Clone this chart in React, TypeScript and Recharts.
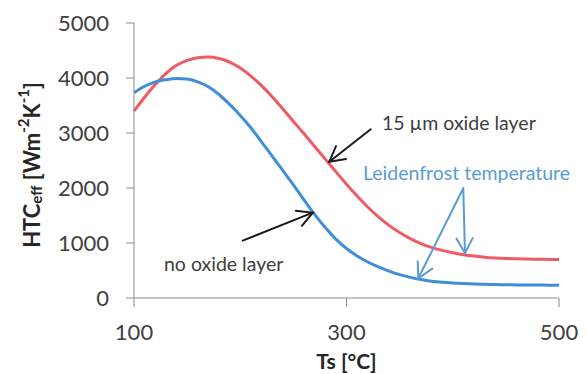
import { LineChart, Line, XAxis, YAxis, ReferenceLine, ReferenceDot } from 'recharts'

const temps = [
  100, 110, 120, 130, 140, 150, 160, 170, 180, 190, 200, 210, 220, 230, 240, 250, 260, 270, 280, 290, 300,
  310, 320, 330, 340, 350, 360, 370, 380, 390, 400, 410, 420, 430, 440, 450, 460, 470, 480, 490, 500,
]
const oxide15 = [
  3400, 3650, 3880, 4080, 4230, 4320, 4370, 4380, 4355, 4290, 4180, 4035, 3860, 3660, 3440, 3210, 2985, 2755, 2525, 2295, 2070,
  1855, 1655, 1475, 1320, 1190, 1080, 990, 920, 866, 822, 788, 762, 743, 729, 719, 712, 707, 704, 702, 701,
]
const noOxide = [
  3730, 3850, 3930, 3970, 3993, 3980, 3930, 3840, 3700, 3520, 3320, 3095, 2840, 2580, 2320, 2055, 1785, 1520, 1280, 1070, 900,
  765, 655, 565, 490, 425, 375, 335, 305, 285, 272, 263, 256, 250, 245, 241, 238, 236, 235, 234, 234,
]
const xTicks = [100, 300, 500]
const yTicks = [0, 1000, 2000, 3000, 4000, 5000]

const data = temps.map((t, i) => ({ t, oxide: oxide15[i], bare: noOxide[i] }))

const RED = '#ef5a63'
const BLUE = '#3f8fd8'
const NOTE_BLUE = '#5b9bd5'
const FONT = 'Lato, "Liberation Sans", sans-serif'

// arrows in data coordinates
const arrows = [
  { from: [322.8, 3067], to: [283.8, 2478], color: '#1a1a1a' },
  { from: [202.3, 1042], to: [268.2, 1551], color: '#1a1a1a' },
  { from: [409.9, 1995], to: [411.5, 813], color: NOTE_BLUE },
  { from: [409.9, 1995], to: [367.6, 358], color: NOTE_BLUE },
]

const notes = [
  { x: 333.4, y: 3200, text: '15 µm oxide layer', color: '#404040' },
  { x: 315.5, y: 2273, text: 'Leidenfrost temperature', color: NOTE_BLUE },
  { x: 128.2, y: 636, text: 'no oxide layer', color: '#404040' },
]

const arrowShape = (color: string) => (p: any) => {
  const { x1, y1, x2, y2 } = p
  const a = Math.atan2(y2 - y1, x2 - x1)
  const len = 17
  const spread = 0.5
  const hx1 = x2 - len * Math.cos(a - spread)
  const hy1 = y2 - len * Math.sin(a - spread)
  const hx2 = x2 - len * Math.cos(a + spread)
  const hy2 = y2 - len * Math.sin(a + spread)
  return (
    <g stroke={color} strokeWidth={2} fill="none" strokeLinecap="round">
      <line x1={x1} y1={y1} x2={x2} y2={y2} />
      <polyline points={`${hx1},${hy1} ${x2},${y2} ${hx2},${hy2}`} />
    </g>
  )
}

const noteShape = (text: string, color: string) => (p: any) => (
  <text x={p.cx} y={p.cy} dominantBaseline="central" fill={color} fontSize={19.5} fontFamily={FONT}>
    {text}
  </text>
)

export default function App() {
  return (
    <div style={{ position: 'absolute', left: 0, top: 0, background: '#fff' }}>
      <LineChart width={587} height={374} data={data} margin={{ top: 23, right: 28, left: 0, bottom: 0 }}>
        <XAxis
          dataKey="t"
          type="number"
          domain={[100, 500]}
          ticks={xTicks}
          height={76}
          tickSize={9}
          tickMargin={17}
          stroke="#8c8c8c"
          tick={{ fill: '#404040', fontSize: 22, fontFamily: FONT }}
          label={{
            value: 'Ts [°C]', position: 'insideBottom', offset: 5,
            style: { fill: '#262626', fontSize: 21, fontWeight: 700, fontFamily: FONT },
          }}
        />
        <YAxis
          type="number"
          domain={[0, 5000]}
          ticks={yTicks}
          width={134}
          tickSize={8}
          tickMargin={17}
          stroke="#8c8c8c"
          tick={{ fill: '#404040', fontSize: 22, fontFamily: FONT }}
          label={{
            content: () => (
              <text
                transform="translate(31,165) rotate(-90)"
                textAnchor="middle"
                dominantBaseline="central"
                fill="#262626"
                fontSize={22}
                fontWeight={700}
                fontFamily={FONT}
              >
                HTC<tspan fontSize={15} dy={5}>eff</tspan>
                <tspan dy={-5}> [Wm</tspan>
                <tspan fontSize={15} dy={-8}>-2</tspan>
                <tspan dy={8}>K</tspan>
                <tspan fontSize={15} dy={-8}>-1</tspan>
                <tspan dy={8}>]</tspan>
              </text>
            ),
          }}
        />
        <Line type="monotone" dataKey="oxide" stroke={RED} strokeWidth={3} dot={false} isAnimationActive={false} />
        <Line type="monotone" dataKey="bare" stroke={BLUE} strokeWidth={3} dot={false} isAnimationActive={false} />
        {arrows.map((a, i) => (
          <ReferenceLine
            key={`a${i}`}
            segment={[{ x: a.from[0], y: a.from[1] }, { x: a.to[0], y: a.to[1] }]}
            shape={arrowShape(a.color)}
          />
        ))}
        {notes.map((n, i) => (
          <ReferenceDot key={`n${i}`} x={n.x} y={n.y} r={0} shape={noteShape(n.text, n.color)} />
        ))}
      </LineChart>
    </div>
  )
}
